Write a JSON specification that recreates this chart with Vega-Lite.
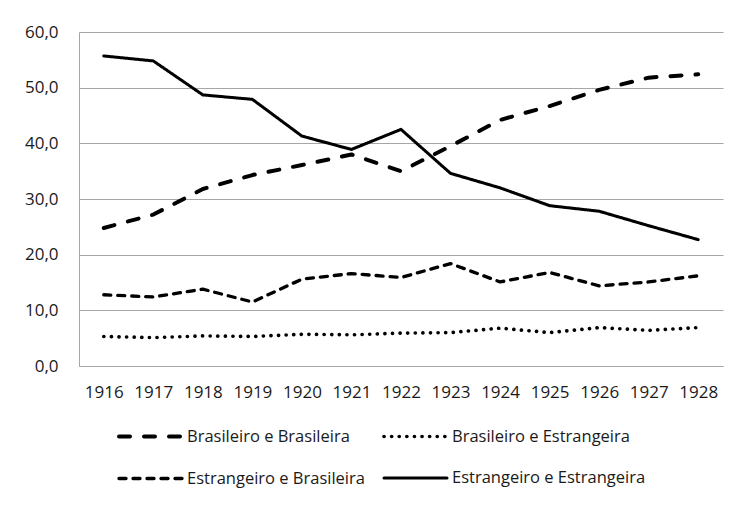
{
  "$schema": "https://vega.github.io/schema/vega-lite/v6.json",
  "width": 644,
  "height": 334,
  "autosize": {"type": "none"},
  "padding": {"left": 79, "top": 32, "right": 16, "bottom": 153},
  "background": "white",
  "config": {
    "view": {"stroke": null},
    "font": "Open Sans"
  },
  "data": {
    "values": [
      {"ano": "1916", "serie": "Brasileiro e Brasileira", "valor": 24.8},
      {"ano": "1917", "serie": "Brasileiro e Brasileira", "valor": 27.2},
      {"ano": "1918", "serie": "Brasileiro e Brasileira", "valor": 31.8},
      {"ano": "1919", "serie": "Brasileiro e Brasileira", "valor": 34.3},
      {"ano": "1920", "serie": "Brasileiro e Brasileira", "valor": 36.1},
      {"ano": "1921", "serie": "Brasileiro e Brasileira", "valor": 38.0},
      {"ano": "1922", "serie": "Brasileiro e Brasileira", "valor": 35.0},
      {"ano": "1923", "serie": "Brasileiro e Brasileira", "valor": 39.5},
      {"ano": "1924", "serie": "Brasileiro e Brasileira", "valor": 44.2},
      {"ano": "1925", "serie": "Brasileiro e Brasileira", "valor": 46.7},
      {"ano": "1926", "serie": "Brasileiro e Brasileira", "valor": 49.6},
      {"ano": "1927", "serie": "Brasileiro e Brasileira", "valor": 51.8},
      {"ano": "1928", "serie": "Brasileiro e Brasileira", "valor": 52.4},
      {"ano": "1916", "serie": "Brasileiro e Estrangeira", "valor": 5.3},
      {"ano": "1917", "serie": "Brasileiro e Estrangeira", "valor": 5.1},
      {"ano": "1918", "serie": "Brasileiro e Estrangeira", "valor": 5.4},
      {"ano": "1919", "serie": "Brasileiro e Estrangeira", "valor": 5.3},
      {"ano": "1920", "serie": "Brasileiro e Estrangeira", "valor": 5.7},
      {"ano": "1921", "serie": "Brasileiro e Estrangeira", "valor": 5.6},
      {"ano": "1922", "serie": "Brasileiro e Estrangeira", "valor": 5.9},
      {"ano": "1923", "serie": "Brasileiro e Estrangeira", "valor": 6.0},
      {"ano": "1924", "serie": "Brasileiro e Estrangeira", "valor": 6.8},
      {"ano": "1925", "serie": "Brasileiro e Estrangeira", "valor": 6.0},
      {"ano": "1926", "serie": "Brasileiro e Estrangeira", "valor": 6.9},
      {"ano": "1927", "serie": "Brasileiro e Estrangeira", "valor": 6.4},
      {"ano": "1928", "serie": "Brasileiro e Estrangeira", "valor": 6.9},
      {"ano": "1916", "serie": "Estrangeiro e Brasileira", "valor": 12.8},
      {"ano": "1917", "serie": "Estrangeiro e Brasileira", "valor": 12.4},
      {"ano": "1918", "serie": "Estrangeiro e Brasileira", "valor": 13.8},
      {"ano": "1919", "serie": "Estrangeiro e Brasileira", "valor": 11.5},
      {"ano": "1920", "serie": "Estrangeiro e Brasileira", "valor": 15.6},
      {"ano": "1921", "serie": "Estrangeiro e Brasileira", "valor": 16.6},
      {"ano": "1922", "serie": "Estrangeiro e Brasileira", "valor": 15.9},
      {"ano": "1923", "serie": "Estrangeiro e Brasileira", "valor": 18.4},
      {"ano": "1924", "serie": "Estrangeiro e Brasileira", "valor": 15.1},
      {"ano": "1925", "serie": "Estrangeiro e Brasileira", "valor": 16.8},
      {"ano": "1926", "serie": "Estrangeiro e Brasileira", "valor": 14.4},
      {"ano": "1927", "serie": "Estrangeiro e Brasileira", "valor": 15.1},
      {"ano": "1928", "serie": "Estrangeiro e Brasileira", "valor": 16.2},
      {"ano": "1916", "serie": "Estrangeiro e Estrangeira", "valor": 55.7},
      {"ano": "1917", "serie": "Estrangeiro e Estrangeira", "valor": 54.8},
      {"ano": "1918", "serie": "Estrangeiro e Estrangeira", "valor": 48.7},
      {"ano": "1919", "serie": "Estrangeiro e Estrangeira", "valor": 47.9},
      {"ano": "1920", "serie": "Estrangeiro e Estrangeira", "valor": 41.3},
      {"ano": "1921", "serie": "Estrangeiro e Estrangeira", "valor": 38.9},
      {"ano": "1922", "serie": "Estrangeiro e Estrangeira", "valor": 42.5},
      {"ano": "1923", "serie": "Estrangeiro e Estrangeira", "valor": 34.6},
      {"ano": "1924", "serie": "Estrangeiro e Estrangeira", "valor": 32.0},
      {"ano": "1925", "serie": "Estrangeiro e Estrangeira", "valor": 28.8},
      {"ano": "1926", "serie": "Estrangeiro e Estrangeira", "valor": 27.8},
      {"ano": "1927", "serie": "Estrangeiro e Estrangeira", "valor": 25.2},
      {"ano": "1928", "serie": "Estrangeiro e Estrangeira", "valor": 22.7}
    ]
  },
  "mark": {"type": "line", "color": "black", "strokeCap": "round", "strokeJoin": "round"},
  "encoding": {
    "x": {
      "field": "ano", "type": "ordinal",
      "scale": {"type": "point", "padding": 0.5},
      "axis": {"title": null, "labelAngle": 0, "ticks": false, "domainColor": "#a6a6a6", "labelFontSize": 17, "labelColor": "#1a1a1a", "labelPadding": 18, "grid": false}
    },
    "y": {
      "field": "valor", "type": "quantitative",
      "scale": {"domain": [0, 60]},
      "axis": {"title": null, "values": [0, 10, 20, 30, 40, 50, 60], "ticks": false, "domainColor": "#a6a6a6", "gridColor": "#a6a6a6", "labelFontSize": 17, "labelColor": "#1a1a1a", "labelPadding": 21, "labelExpr": "replace(format(datum.value, '.1f'), '.', ',')"}
    },
    "strokeDash": {
      "field": "serie", "type": "nominal",
      "scale": {
        "domain": ["Brasileiro e Brasileira", "Brasileiro e Estrangeira", "Estrangeiro e Brasileira", "Estrangeiro e Estrangeira"],
        "range": [[11, 14], [0.1, 7.5], [7, 7], [1, 0]]
      },
      "legend": {
        "title": null, "orient": "none", "legendX": 38, "legendY": 371, "columns": 2, "direction": "horizontal",
        "symbolType": "stroke", "symbolSize": 3969, "symbolStrokeColor": "black", "symbolStrokeWidth": 3.8, "labelFontSize": 16.5, "labelColor": "#1a1a1a", "labelOffset": 3, "columnPadding": 11, "rowPadding": -4, "symbolLimit": 10, "labelLimit": 300,
        "encode": {"symbols": {"update": {"strokeWidth": {"value": 3.8}, "strokeCap": {"value": "round"}}}}
      }
    },
    "strokeWidth": {
      "field": "serie", "type": "nominal",
      "scale": {
        "domain": ["Brasileiro e Brasileira", "Brasileiro e Estrangeira", "Estrangeiro e Brasileira", "Estrangeiro e Estrangeira"],
        "range": [4, 3, 4, 4]
      },
      "legend": null
    }
  }
}
